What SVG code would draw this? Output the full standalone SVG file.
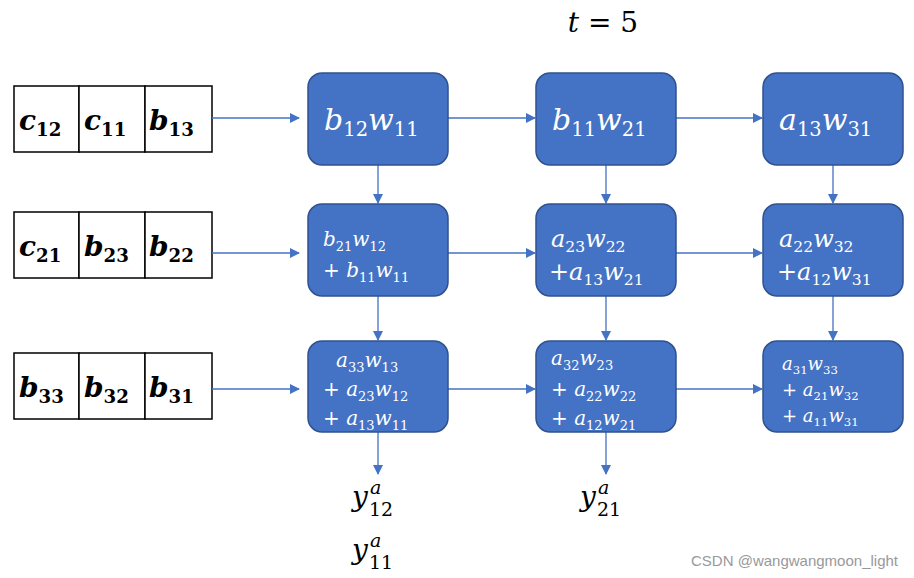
<svg xmlns="http://www.w3.org/2000/svg" width="914" height="578" viewBox="0 0 914 578">
<defs>
<style>
.box{fill:#4472C4;stroke:#2F528F;stroke-width:1.5}
.cell{fill:#fff;stroke:#000;stroke-width:1.5}
.m{font-family:"DejaVu Serif","Liberation Serif",serif;font-style:italic}
.w{fill:#fff}
.b{font-weight:bold;font-family:"DejaVu Serif",serif;font-style:italic;font-size:28px}
.s{font-size:65%;font-style:normal}
.c{stroke:#4472C4;stroke-width:1.3;fill:none;marker-end:url(#a)}
</style>
<marker id="a" markerWidth="10" markerHeight="10" refX="9" refY="5" orient="auto" markerUnits="userSpaceOnUse"><path d="M0,0L10,5L0,10z" fill="#4472C4"/></marker>
</defs>
<rect width="914" height="578" fill="#fff"/>
<text x="603" y="32" text-anchor="middle" class="m" font-size="28">t <tspan font-style="normal">= 5</tspan></text>
<g id="in1"><rect class="cell" x="14" y="86" width="65" height="66"/><rect class="cell" x="79" y="86" width="66" height="66"/><rect class="cell" x="145" y="86" width="67" height="66"/>
<text class="b" y="130"><tspan x="19">c</tspan><tspan class="s" dy="6">12</tspan><tspan x="84" dy="-6">c</tspan><tspan class="s" dy="6">11</tspan><tspan x="149" dy="-6">b</tspan><tspan class="s" dy="6">13</tspan></text></g>
<g id="in2"><rect class="cell" x="14" y="212" width="65" height="66"/><rect class="cell" x="79" y="212" width="66" height="66"/><rect class="cell" x="145" y="212" width="67" height="66"/>
<text class="b" y="256"><tspan x="19">c</tspan><tspan class="s" dy="6">21</tspan><tspan x="84" dy="-6">b</tspan><tspan class="s" dy="6">23</tspan><tspan x="149" dy="-6">b</tspan><tspan class="s" dy="6">22</tspan></text></g>
<g id="in3"><rect class="cell" x="14" y="353" width="65" height="66"/><rect class="cell" x="79" y="353" width="66" height="66"/><rect class="cell" x="145" y="353" width="67" height="66"/>
<text class="b" y="397"><tspan x="19">b</tspan><tspan class="s" dy="6">33</tspan><tspan x="84" dy="-6">b</tspan><tspan class="s" dy="6">32</tspan><tspan x="149" dy="-6">b</tspan><tspan class="s" dy="6">31</tspan></text></g>
<g id="connectors">
<path class="c" d="M212,118H299"/><path class="c" d="M212,253H299"/><path class="c" d="M212,389H299"/>
<path class="c" d="M448,118H535"/><path class="c" d="M676,118H762"/>
<path class="c" d="M448,253H535"/><path class="c" d="M676,253H762"/>
<path class="c" d="M448,389H535"/><path class="c" d="M676,389H762"/>
<path class="c" d="M378,165V203"/><path class="c" d="M606,165V203"/><path class="c" d="M833,165V203"/>
<path class="c" d="M378,296V340"/><path class="c" d="M606,296V340"/><path class="c" d="M833,296V340"/>
<path class="c" d="M378,432V474"/><path class="c" d="M606,432V474"/>
</g>
<g id="n11"><rect class="box" x="308" y="73" width="140" height="92" rx="14"/><text class="m w" font-size="30" x="324" y="130">b<tspan class="s" dy="6">12</tspan><tspan dy="-6">w</tspan><tspan class="s" dy="6">11</tspan></text></g>
<g id="n12"><rect class="box" x="536" y="73" width="140" height="92" rx="14"/><text class="m w" font-size="30" x="552" y="130">b<tspan class="s" dy="6">11</tspan><tspan dy="-6">w</tspan><tspan class="s" dy="6">21</tspan></text></g>
<g id="n13"><rect class="box" x="763" y="73" width="140" height="92" rx="14"/><text class="m w" font-size="30" x="779" y="130">a<tspan class="s" dy="6">13</tspan><tspan dy="-6">w</tspan><tspan class="s" dy="6">31</tspan></text></g>
<g id="n21"><rect class="box" x="308" y="204" width="140" height="92" rx="14"/><text class="m w" font-size="20"><tspan x="323" y="246">b<tspan class="s" dy="5">21</tspan><tspan dy="-5">w</tspan><tspan class="s" dy="5">12</tspan></tspan><tspan x="323" y="277"><tspan font-style="normal">+ </tspan>b<tspan class="s" dy="5">11</tspan><tspan dy="-5">w</tspan><tspan class="s" dy="5">11</tspan></tspan></text></g>
<g id="n22"><rect class="box" x="536" y="204" width="140" height="92" rx="14"/><text class="m w" font-size="24"><tspan x="551" y="247">a<tspan class="s" dy="5">23</tspan><tspan dy="-5">w</tspan><tspan class="s" dy="5">22</tspan></tspan><tspan x="549" y="280"><tspan font-style="normal">+</tspan>a<tspan class="s" dy="5">13</tspan><tspan dy="-5">w</tspan><tspan class="s" dy="5">21</tspan></tspan></text></g>
<g id="n23"><rect class="box" x="763" y="204" width="140" height="92" rx="14"/><text class="m w" font-size="24"><tspan x="779" y="247">a<tspan class="s" dy="5">22</tspan><tspan dy="-5">w</tspan><tspan class="s" dy="5">32</tspan></tspan><tspan x="777" y="280"><tspan font-style="normal">+</tspan>a<tspan class="s" dy="5">12</tspan><tspan dy="-5">w</tspan><tspan class="s" dy="5">31</tspan></tspan></text></g>
<g id="n31"><rect class="box" x="308" y="341" width="140" height="91" rx="14"/><text class="m w" font-size="20"><tspan x="336" y="367">a<tspan class="s" dy="5">33</tspan><tspan dy="-5">w</tspan><tspan class="s" dy="5">13</tspan></tspan><tspan x="323" y="396"><tspan font-style="normal">+ </tspan>a<tspan class="s" dy="5">23</tspan><tspan dy="-5">w</tspan><tspan class="s" dy="5">12</tspan></tspan><tspan x="323" y="425"><tspan font-style="normal">+ </tspan>a<tspan class="s" dy="5">13</tspan><tspan dy="-5">w</tspan><tspan class="s" dy="5">11</tspan></tspan></text></g>
<g id="n32"><rect class="box" x="536" y="341" width="140" height="91" rx="14"/><text class="m w" font-size="20"><tspan x="551" y="365">a<tspan class="s" dy="5">32</tspan><tspan dy="-5">w</tspan><tspan class="s" dy="5">23</tspan></tspan><tspan x="551" y="396"><tspan font-style="normal">+ </tspan>a<tspan class="s" dy="5">22</tspan><tspan dy="-5">w</tspan><tspan class="s" dy="5">22</tspan></tspan><tspan x="551" y="425"><tspan font-style="normal">+ </tspan>a<tspan class="s" dy="5">12</tspan><tspan dy="-5">w</tspan><tspan class="s" dy="5">21</tspan></tspan></text></g>
<g id="n33"><rect class="box" x="763" y="341" width="140" height="91" rx="14"/><text class="m w" font-size="18"><tspan x="782" y="370">a<tspan class="s" dy="4">31</tspan><tspan dy="-4">w</tspan><tspan class="s" dy="4">33</tspan></tspan><tspan x="782" y="396"><tspan font-style="normal">+ </tspan>a<tspan class="s" dy="4">21</tspan><tspan dy="-4">w</tspan><tspan class="s" dy="4">32</tspan></tspan><tspan x="782" y="422"><tspan font-style="normal">+ </tspan>a<tspan class="s" dy="4">11</tspan><tspan dy="-4">w</tspan><tspan class="s" dy="4">31</tspan></tspan></text></g>
<g id="outs" class="m">
<text x="352" y="506" font-size="28">y</text><text x="370" y="494" font-size="19">a</text><text x="369" y="516" font-size="19" font-style="normal">12</text>
<text x="352" y="559" font-size="28">y</text><text x="370" y="547" font-size="19">a</text><text x="369" y="569" font-size="19" font-style="normal">11</text>
<text x="580" y="506" font-size="28">y</text><text x="598" y="494" font-size="19">a</text><text x="597" y="516" font-size="19" font-style="normal">21</text>
</g>
<text x="898" y="566" text-anchor="end" font-family="Liberation Sans,sans-serif" font-size="15" fill="#999">CSDN @wangwangmoon_light</text>
</svg>
